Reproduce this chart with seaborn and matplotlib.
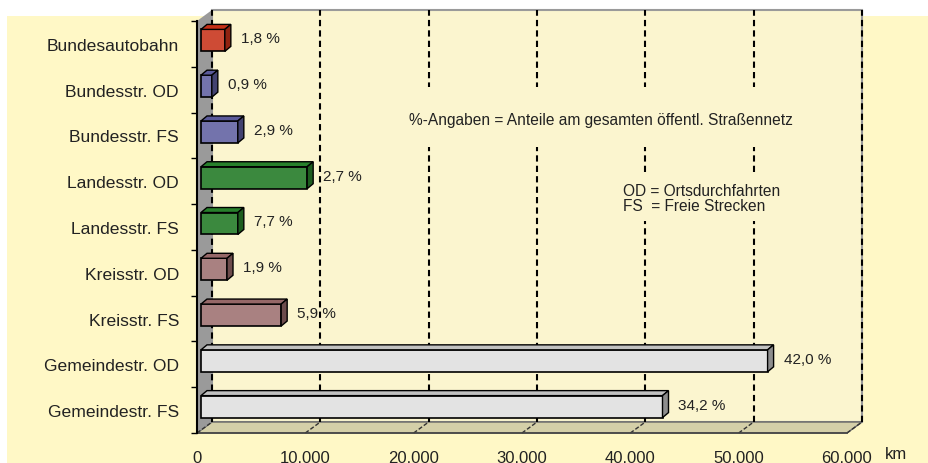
import numpy as np
import matplotlib
matplotlib.use('Agg')
import matplotlib.pyplot as plt
import seaborn as sns
from matplotlib.patches import Polygon, Rectangle
from matplotlib.colors import to_rgb

# Road network length by road class (km) and share of the total network
categories = ['Bundesautobahn', 'Bundesstr. OD', 'Bundesstr. FS', 'Landesstr. OD', 'Landesstr. FS',
              'Kreisstr. OD', 'Kreisstr. FS', 'Gemeindestr. OD', 'Gemeindestr. FS']
km = [2200, 1000, 3400, 9800, 3400, 2400, 7400, 52300, 42600]
shares = ['1,8 %', '0,9 %', '2,9 %', '2,7 %', '7,7 %', '1,9 %', '5,9 %', '42,0 %', '34,2 %']
colors = ['#E8391B', '#6A6AB5', '#6A6AB5', '#2E9632', '#2E9632', '#B07A7A', '#B07A7A', '#E3E3E3', '#E3E3E3']
xticks = [0, 10000, 20000, 30000, 40000, 50000, 60000]
xtick_labels = ['0', '10.000', '20.000', '30.000', '40.000', '50.000', '60.000']

W, H = 929, 464
WALL = '#FBF5CF'
sns.set_style('white')
plt.rcParams['font.family'] = ['Liberation Sans', 'DejaVu Sans']

fig = plt.figure(figsize=(W / 100, H / 100), dpi=100)
fig.patch.set_facecolor('white')
# outer yellow panel
fig.add_artist(Rectangle((7 / W, 0), 1, 1 - 17 / H, transform=fig.transFigure,
                         facecolor='#FFF8C6', edgecolor='none', zorder=-10))

ax = fig.add_axes([197 / W, 30 / H, 650 / W, 412 / H])
ax.set_facecolor('none')

sns.barplot(x=km, y=categories, orient='h', palette=colors, hue=categories, legend=False,
            width=0.48, ax=ax, edgecolor='black', linewidth=1.2, zorder=5)
bars = list(ax.patches)

ax.set_xlim(0, 60000)
ax.set_ylim(8.5, -0.5)

# data units per pixel
px = 60000 / 650
py = 9 / 412
DX, DY = 15, 11      # depth of the chart walls (pixels)
BX, BY = 4, 3.5      # shift of bars off the front plane
SX, SY = 6, 5        # depth of bars

ybot, ytop = 8.5, -0.5

# back wall
back = Rectangle((DX * px, ytop - DY * py), 60000, 9, facecolor=WALL,
                 edgecolor='#9A9A9A', linewidth=1.5, clip_on=False, zorder=0)
ax.add_patch(back)
# floor
floor = Polygon([(0, ybot), (60000, ybot), (60000 + DX * px, ybot - DY * py), (DX * px, ybot - DY * py)],
                closed=True, facecolor='#D4CFA8', edgecolor='#666666', linewidth=1.0, clip_on=False, zorder=1)
ax.add_patch(floor)
# left wall
lwall = Polygon([(0, ybot), (DX * px, ybot - DY * py), (DX * px, ytop - DY * py), (0, ytop)],
                closed=True, facecolor='#9A9A9A', edgecolor='none', clip_on=False, zorder=1)
ax.add_patch(lwall)

# gridlines on the back wall and on the floor
for t in xticks:
    ax.plot([t + DX * px, t + DX * px], [ybot - DY * py, ytop - DY * py], color='black',
            linestyle=(0, (3, 2)), linewidth=1.5, clip_on=False, zorder=2)
    ax.plot([t, t + DX * px], [ybot, ybot - DY * py], color='#333333',
            linestyle=(0, (3, 1.5)), linewidth=1.0, clip_on=False, zorder=2)

# text boxes hide the gridlines behind the notes
for (x0, y0, x1, y1) in [(392, 88, 812, 148), (612, 177, 800, 222)]:
    ax.add_patch(Rectangle((x0 / W, 1 - y1 / H), (x1 - x0) / W, (y1 - y0) / H,
                           transform=fig.transFigure, facecolor=WALL, edgecolor='none',
                           clip_on=False, zorder=2.5))


def shade(c, f):
    r, g, b = to_rgb(c)
    return (r * f, g * f, b * f)


# 3D faces of the bars
for p, c, lab in zip(bars, colors, shares):
    p.set_x(p.get_x() + BX * px)
    p.set_y(p.get_y() - BY * py)
    x0, y0 = p.get_x(), p.get_y()
    x1, y1 = x0 + p.get_width(), y0 + p.get_height()
    top = Polygon([(x0, y0), (x1, y0), (x1 + SX * px, y0 - SY * py), (x0 + SX * px, y0 - SY * py)],
                  closed=True, facecolor=shade(c, 0.85), edgecolor='black', linewidth=1.0, zorder=5)
    side = Polygon([(x1, y0), (x1 + SX * px, y0 - SY * py), (x1 + SX * px, y1 - SY * py), (x1, y1)],
                   closed=True, facecolor=shade(c, 0.62), edgecolor='black', linewidth=1.0, zorder=5)
    ax.add_patch(top)
    ax.add_patch(side)
    ax.text(x1 + 16 * px, (y0 + y1) / 2 - 2 * py, lab, ha='left', va='center',
            fontsize=11, color='#222222', zorder=6)

# axes styling
for s in ['top', 'right']:
    ax.spines[s].set_visible(False)
ax.spines['left'].set_color('black')
ax.spines['left'].set_linewidth(1.5)
ax.spines['bottom'].set_color('#444444')
ax.spines['bottom'].set_linewidth(1.2)
ax.spines['left'].set_zorder(3)

ax.set_xticks(xticks)
ax.set_xticklabels(xtick_labels, fontsize=12, color='#222222')
ax.tick_params(axis='x', direction='out', length=4, width=1, color='#333333', pad=8)
ax.set_yticks(np.arange(-0.5, 9, 1), minor=True)
ax.tick_params(axis='y', which='major', length=0, pad=13, labelsize=12.6, labelcolor='#222222')
ax.tick_params(axis='y', which='minor', direction='out', length=4, width=1, color='black', left=True)
ax.set_xlabel('')
ax.set_ylabel('')

fig.text(885 / W, 1 - 455 / H, 'km', fontsize=12, color='#222222', va='center', ha='left')
fig.text(409 / W, 1 - 121 / H, '%-Angaben = Anteile am gesamten öffentl. Straßennetz',
         fontsize=11.2, color='#222222', va='center', ha='left')
fig.text(623 / W, 1 - 191 / H, 'OD = Ortsdurchfahrten', fontsize=11.2, color='#222222', va='center', ha='left')
fig.text(623 / W, 1 - 207 / H, 'FS  = Freie Strecken', fontsize=11.2, color='#222222', va='center', ha='left')

fig.savefig('out.png', dpi=100, facecolor=fig.get_facecolor())
